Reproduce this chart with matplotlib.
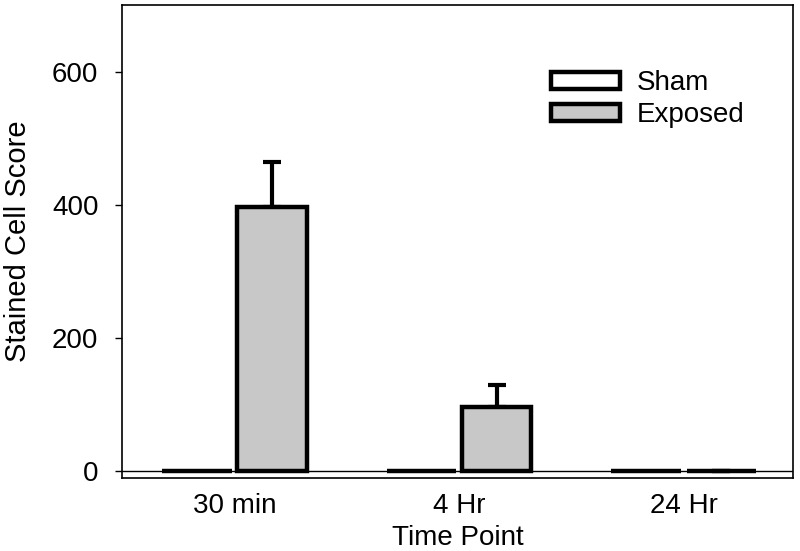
import matplotlib.pyplot as plt
import numpy as np

plt.rcParams["font.family"] = ["Liberation Sans", "DejaVu Sans"]

time_points = ["30 min", "4 Hr", "24 Hr"]
sham = [0, 0, 0]
exposed = [396, 97, 0]
exposed_err = [69, 32, 0]


def main():
    fig = plt.figure(figsize=(8, 5.51), dpi=100)
    ax = fig.add_axes([0.1525, 0.1325, 0.8385, 0.8585])

    x = np.arange(len(time_points))
    width = 0.31
    offset = 0.167

    ax.axhline(0, color="black", linewidth=1.0, zorder=1)

    ax.bar(x - offset, sham, width=width, color="white", edgecolor="black",
           linewidth=3.2, label="Sham", zorder=2)
    ax.bar(x + offset, exposed, width=width, color="#c8c8c8", edgecolor="black",
           linewidth=3.2, label="Exposed", zorder=2)

    # only the upper half of the error bars is drawn
    lower = [0] * len(exposed_err)
    ax.errorbar(x + offset, exposed, yerr=[lower, exposed_err], fmt="none",
                ecolor="black", elinewidth=3, capsize=6.5, capthick=3, zorder=1.5)

    ax.set_xlim(-0.5, 2.485)
    ax.set_ylim(-10, 700)
    ax.set_yticks([0, 200, 400, 600])
    ax.set_xticks(x)
    ax.set_xticklabels(time_points)

    ax.tick_params(axis="y", direction="out", length=5, width=1, pad=12, labelsize=20)
    ax.tick_params(axis="x", length=0, pad=11, labelsize=20)
    for spine in ax.spines.values():
        spine.set_linewidth(1.2)

    ax.set_xlabel("Time Point", fontsize=20, labelpad=4)
    ax.set_ylabel("Stained Cell Score", fontsize=21, labelpad=14)

    ax.legend(loc="upper left", bbox_to_anchor=(0.623, 0.885), frameon=False,
              fontsize=20, handlelength=2.5, handleheight=0.55,
              handletextpad=0.6, labelspacing=0.2, borderaxespad=0)

    fig.savefig("out.png", dpi=100)
    plt.close(fig)


if __name__ == "__main__":
    main()
